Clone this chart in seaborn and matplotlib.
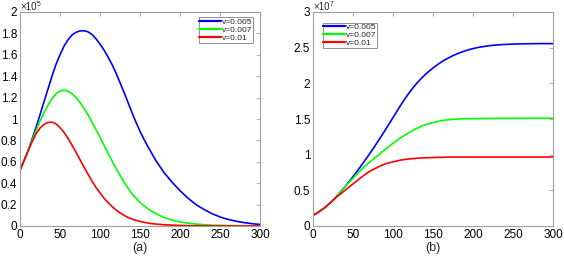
import numpy as np
import pandas as pd
import seaborn as sns
import matplotlib
matplotlib.use('Agg')
import matplotlib.pyplot as plt
from matplotlib.ticker import FormatStrFormatter

# 时间轴 (步长 5)
t = np.arange(0, 301, 5)
labels = ['v=0.005', 'v=0.007', 'v=0.01']
colors = ['#0000ff', '#00ff00', '#ff0000']

# (a) 单位 1e5
a_v005 = [0.52, 0.61, 0.70, 0.81, 0.92, 1.04, 1.16, 1.28, 1.40, 1.51,
          1.60, 1.68, 1.74, 1.785, 1.81, 1.823, 1.825, 1.815, 1.79, 1.75,
          1.70, 1.645, 1.58, 1.51, 1.43, 1.34, 1.25, 1.155, 1.06, 0.97,
          0.885, 0.81, 0.74, 0.675, 0.61, 0.555, 0.50, 0.455, 0.41, 0.37,
          0.33, 0.295, 0.26, 0.23, 0.20, 0.177, 0.155, 0.135, 0.115, 0.10,
          0.085, 0.073, 0.062, 0.053, 0.045, 0.038, 0.032, 0.027, 0.022, 0.018,
          0.015]
a_v007 = [0.52, 0.61, 0.70, 0.80, 0.89, 0.98, 1.06, 1.13, 1.19, 1.235,
          1.26, 1.27, 1.26, 1.235, 1.20, 1.155, 1.10, 1.04, 0.97, 0.90,
          0.83, 0.755, 0.68, 0.61, 0.54, 0.475, 0.41, 0.355, 0.30, 0.26,
          0.22, 0.19, 0.16, 0.137, 0.115, 0.097, 0.08, 0.067, 0.055, 0.046,
          0.038, 0.032, 0.026, 0.022, 0.018, 0.015, 0.012, 0.010, 0.008, 0.007,
          0.006, 0.005, 0.004, 0.0035, 0.003, 0.0025, 0.002, 0.0015, 0.001, 0.001,
          0.001]
a_v01 = [0.52, 0.61, 0.70, 0.785, 0.86, 0.915, 0.95, 0.968, 0.97, 0.955,
         0.92, 0.875, 0.82, 0.755, 0.69, 0.62, 0.55, 0.485, 0.42, 0.36,
         0.31, 0.26, 0.22, 0.183, 0.15, 0.123, 0.10, 0.081, 0.065, 0.053,
         0.043, 0.035, 0.028, 0.022, 0.018, 0.015, 0.012, 0.010, 0.008, 0.006,
         0.005, 0.004, 0.003, 0.0025, 0.002, 0.0015, 0.001, 0.001, 0.001, 0.001,
         0.0005, 0.0005, 0.0005, 0.0005, 0.0005, 0.0005, 0.0005, 0.0005, 0.0005, 0.0005,
         0.0005]

# (b) 单位 1e7
b_v005 = [0.15, 0.18, 0.22, 0.26, 0.31, 0.36, 0.42, 0.485, 0.55, 0.62,
          0.692, 0.766, 0.842, 0.92, 1.00, 1.082, 1.166, 1.252, 1.34, 1.43,
          1.52, 1.61, 1.70, 1.784, 1.864, 1.938, 2.005, 2.065, 2.12, 2.17,
          2.215, 2.257, 2.296, 2.33, 2.36, 2.388, 2.413, 2.435, 2.455, 2.472,
          2.487, 2.50, 2.51, 2.519, 2.527, 2.533, 2.538, 2.542, 2.545, 2.548,
          2.55, 2.552, 2.553, 2.554, 2.555, 2.556, 2.556, 2.557, 2.557, 2.557,
          2.557]
b_v007 = [0.15, 0.18, 0.22, 0.26, 0.31, 0.36, 0.42, 0.485, 0.55, 0.61,
          0.67, 0.73, 0.79, 0.84, 0.89, 0.935, 0.98, 1.025, 1.07, 1.115,
          1.16, 1.20, 1.24, 1.275, 1.31, 1.34, 1.37, 1.395, 1.42, 1.435,
          1.45, 1.463, 1.475, 1.483, 1.49, 1.495, 1.50, 1.502, 1.503, 1.504,
          1.505, 1.506, 1.507, 1.507, 1.508, 1.508, 1.508, 1.509, 1.509, 1.509,
          1.509, 1.51, 1.51, 1.51, 1.51, 1.51, 1.51, 1.51, 1.51, 1.51,
          1.51]
b_v01 = [0.15, 0.18, 0.22, 0.26, 0.31, 0.36, 0.41, 0.455, 0.50, 0.545,
         0.59, 0.635, 0.68, 0.72, 0.76, 0.79, 0.82, 0.845, 0.87, 0.885,
         0.90, 0.913, 0.925, 0.933, 0.94, 0.945, 0.95, 0.953, 0.956, 0.958,
         0.96, 0.962, 0.963, 0.964, 0.965, 0.966, 0.966, 0.967, 0.967, 0.967,
         0.967, 0.967, 0.967, 0.967, 0.967, 0.967, 0.967, 0.967, 0.967, 0.967,
         0.967, 0.967, 0.967, 0.967, 0.967, 0.967, 0.967, 0.967, 0.967, 0.967,
         0.967]


def long_df(series):
    frames = []
    for lab, vals in zip(labels, series):
        frames.append(pd.DataFrame({'t': t, 'y': vals, 'v': lab}))
    return pd.concat(frames, ignore_index=True)


df_a = long_df([a_v005, a_v007, a_v01])
df_b = long_df([b_v005, b_v007, b_v01])

sns.set_style('white')
plt.rcParams['font.family'] = ['Liberation Sans', 'DejaVu Sans']

fig = plt.figure(figsize=(5.64, 2.56), dpi=100)
ax1 = fig.add_axes([20 / 564, 30 / 256, 240 / 564, 214 / 256])
ax2 = fig.add_axes([313 / 564, 30 / 256, 240 / 564, 214 / 256])

palette = dict(zip(labels, colors))

for ax, df, ymax, yticks, exp, loc, anchor in [
    (ax1, df_a, 2, np.arange(0, 2.01, 0.2), '5', 'upper right', (0.972, 0.975)),
    (ax2, df_b, 3, np.arange(0, 3.01, 0.5), '7', 'upper left', (0.04, 0.95)),
]:
    sns.lineplot(data=df, x='t', y='y', hue='v', palette=palette, ax=ax,
                 linewidth=1.2, legend=True)
    ax.set_xlim(0, 300)
    ax.set_ylim(0, ymax)
    ax.set_xticks(np.arange(0, 301, 50))
    ax.set_yticks(yticks)
    ax.yaxis.set_major_formatter(FormatStrFormatter('%g'))
    ax.set_ylabel('')
    ax.tick_params(direction='in', length=3, width=0.6, color='#a0a0a0',
                   labelsize=8.5, labelcolor='black', top=True, right=True,
                   pad=2)
    for sp in ax.spines.values():
        sp.set_color('#a0a0a0')
        sp.set_linewidth(0.8)
    # 坐标轴左上角的量级
    ax.annotate('×10', xy=(0, 1), xycoords='axes fraction', xytext=(0, 1.3),
                textcoords='offset points', fontsize=7, va='baseline')
    ax.annotate(exp, xy=(0, 1), xycoords='axes fraction', xytext=(12, 4.3),
                textcoords='offset points', fontsize=4.8, va='baseline')
    leg = ax.legend(loc=loc, bbox_to_anchor=anchor, fontsize=6,
                    frameon=True, fancybox=False, framealpha=1,
                    edgecolor='#808080', borderpad=0.1, labelspacing=0.0,
                    handlelength=2.6, handletextpad=0.1, borderaxespad=0)
    leg.get_frame().set_linewidth(0.6)
    for line in leg.get_lines():
        line.set_linewidth(1.6)

ax1.set_xlabel('(a)', fontsize=9, labelpad=1)
ax2.set_xlabel('(b)', fontsize=9, labelpad=1)

fig.savefig('out.png', dpi=100)
